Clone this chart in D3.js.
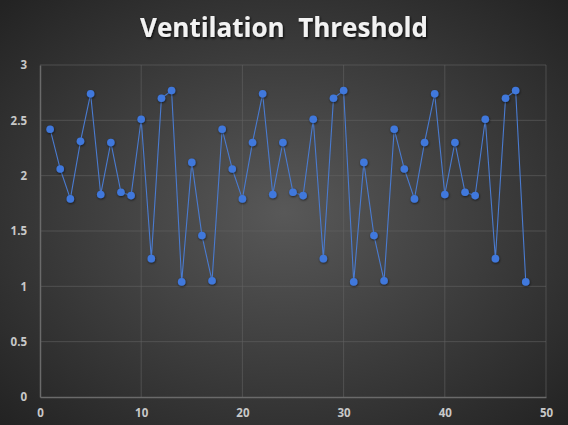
<!DOCTYPE html>
<html><head><meta charset="utf-8">
<script src="https://cdn.jsdelivr.net/npm/d3@7"></script>
<style>html,body{margin:0;padding:0;background:#2a2a2a;}svg{display:block;}</style>
</head><body>
<script>
const xValues = d3.range(1, 49);
const yValues = [2.42,2.06,1.79,2.31,2.74,1.83,2.30,1.85,1.82,2.51,1.25,2.70,2.77,1.04,2.12,1.46,1.05,
                 2.42,2.06,1.79,2.30,2.74,1.83,2.30,1.85,1.82,2.51,1.25,2.70,2.77,1.04,2.12,1.46,1.05,
                 2.42,2.06,1.79,2.30,2.74,1.83,2.30,1.85,1.82,2.51,1.25,2.70,2.77,1.04];
const xTicks = [0,10,20,30,40,50];
const yTicks = [0,0.5,1,1.5,2,2.5,3];
const yTickLabels = ["0","0.5","1","1.5","2","2.5","3"];
const title = "Ventilation\u00a0\u00a0Threshold";

const W = 568, H = 425;
const svg = d3.select("body").append("svg").attr("width", W).attr("height", H);
const defs = svg.append("defs");
const rg = defs.append("radialGradient").attr("id","bg").attr("cx","50%").attr("cy","50%").attr("r","70%");
rg.append("stop").attr("offset","0%").attr("stop-color","#585858");
rg.append("stop").attr("offset","100%").attr("stop-color","#232323");
const f = defs.append("filter").attr("id","sh").attr("x","-10%").attr("y","-30%").attr("width","120%").attr("height","160%");
f.append("feDropShadow").attr("dx",1).attr("dy",1.5).attr("stdDeviation",1.2).attr("flood-color","#000").attr("flood-opacity",0.8);
const mf = defs.append("filter").attr("id","msh").attr("x","-50%").attr("y","-50%").attr("width","200%").attr("height","200%");
mf.append("feDropShadow").attr("dx",0.5).attr("dy",1).attr("stdDeviation",0.8).attr("flood-color","#000").attr("flood-opacity",0.6);

svg.append("rect").attr("width",W).attr("height",H).attr("fill","url(#bg)");

const x = d3.scaleLinear().domain([0,50]).range([40,546]);
const y = d3.scaleLinear().domain([0,3]).range([397,65]);

// gridlines
const g = svg.append("g");
g.selectAll(".hg").data(yTicks.slice(1)).join("line")
  .attr("x1", x(0)).attr("x2", x(50)).attr("y1", d=>y(d)).attr("y2", d=>y(d))
  .attr("stroke","#626262").attr("stroke-width",1).attr("opacity",0.6);
g.selectAll(".vg").data(xTicks.slice(1)).join("line")
  .attr("y1", y(0)).attr("y2", y(3)).attr("x1", d=>x(d)).attr("x2", d=>x(d))
  .attr("stroke","#626262").attr("stroke-width",1).attr("opacity",0.6);

// axes
const xAxis = svg.append("g").attr("transform",`translate(0,${y(0)})`)
  .call(d3.axisBottom(x).tickValues(xTicks).tickSize(0).tickPadding(12).tickFormat(d3.format("d")));
const yAxis = svg.append("g").attr("transform",`translate(${x(0)},0)`)
  .call(d3.axisLeft(y).tickValues(yTicks).tickSize(0).tickPadding(13).tickFormat((d,i)=>yTickLabels[i]));
[xAxis,yAxis].forEach(a=>{
  a.select(".domain").attr("stroke","#6a6a6a").attr("stroke-width",1.5);
  a.selectAll("text").attr("fill","#c8c8c8").attr("font-family","'Open Sans', sans-serif")
    .attr("font-size","11.5px").attr("font-weight","bold");
});

// line
const line = d3.line().x((d,i)=>x(xValues[i])).y(d=>y(d));
svg.append("path").datum(yValues).attr("d", line).attr("fill","none")
  .attr("stroke","#4a7bd0").attr("stroke-width",1.1);
svg.selectAll(".pt").data(yValues).join("circle")
  .attr("cx",(d,i)=>x(xValues[i])).attr("cy",d=>y(d)).attr("r",3.8)
  .attr("fill","#3f78dc").attr("filter","url(#msh)");

// title
svg.append("text").attr("x", 284).attr("y", 37).attr("text-anchor","middle")
  .attr("font-family","'Open Sans', sans-serif").attr("font-weight","bold").attr("font-size","26px")
  .attr("fill","#f2f2f2").attr("filter","url(#sh)").text(title);
</script>
</body></html>
